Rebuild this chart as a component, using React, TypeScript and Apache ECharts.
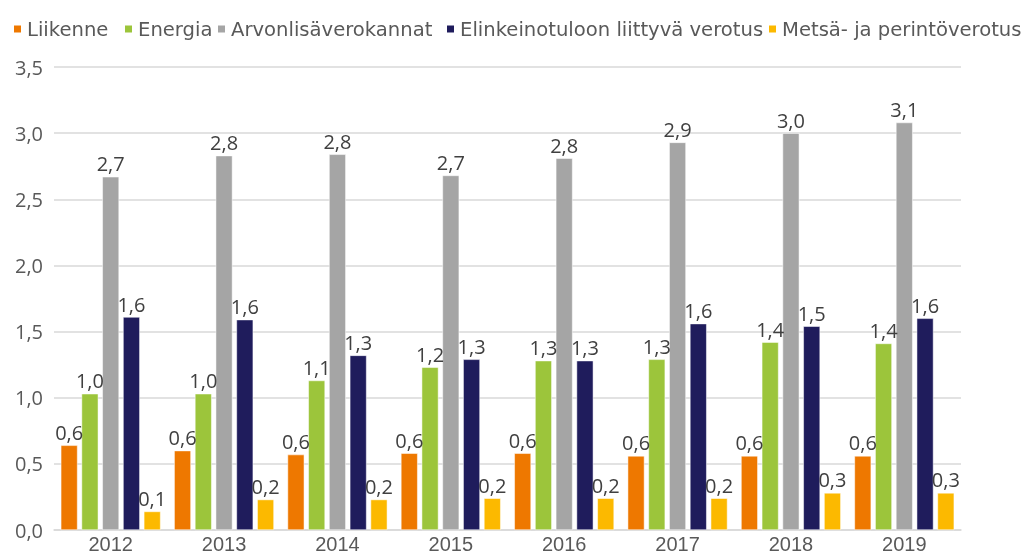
import React, { useEffect, useRef } from "react";
import * as echarts from "echarts";

const years = ["2012", "2013", "2014", "2015", "2016", "2017", "2018", "2019"];
const seriesNames = [
  "Liikenne",
  "Energia",
  "Arvonlisäverokannat",
  "Elinkeinotuloon liittyvä verotus",
  "Metsä- ja perintöverotus",
];
const liikenne = [0.64, 0.6, 0.57, 0.58, 0.58, 0.56, 0.56, 0.56];
const energia = [1.03, 1.03, 1.13, 1.23, 1.28, 1.29, 1.42, 1.41];
const arvonlisa = [2.67, 2.83, 2.84, 2.68, 2.81, 2.93, 3.0, 3.08];
const elinkeino = [1.61, 1.59, 1.32, 1.29, 1.28, 1.56, 1.54, 1.6];
const metsa = [0.14, 0.23, 0.23, 0.24, 0.24, 0.24, 0.28, 0.28];
const colors = ["#EE7800", "#9CC53B", "#A5A5A5", "#1F1C5C", "#FCB900"];
const legendLeft = [12, 123, 216, 445, 767];

const FONT = "'Open Sans', 'Noto Sans', sans-serif";
const LEGEND_FONT = "'DejaVu Sans', 'Open Sans', sans-serif";
const XFONT = "'Liberation Sans', 'Open Sans', sans-serif";

export default function App() {
  const ref = useRef<HTMLDivElement>(null);
  useEffect(() => {
    if (!ref.current) return;
    const chart = echarts.init(ref.current, undefined, { renderer: "svg" });
    const data = [liikenne, energia, arvonlisa, elinkeino, metsa];
    const fmt = (v: number) => v.toFixed(1).replace(".", ",");
    chart.setOption({
      animation: false,
      textStyle: { fontFamily: FONT },
      legend: seriesNames.map((name, i) => ({
        top: 19,
        left: legendLeft[i],
        padding: 0,
        itemWidth: 9,
        itemHeight: 9,
        icon: "rect",
        textStyle: { fontSize: 19.6, color: "#595959", fontFamily: LEGEND_FONT },
        data: [name],
      })),
      grid: { left: 54, right: 72, top: 67, bottom: 26, containLabel: false },
      xAxis: {
        type: "category",
        data: years,
        axisLine: { lineStyle: { color: "#D9D9D9", width: 1.5 } },
        axisTick: { show: false },
        axisLabel: { fontSize: 20, lineHeight: 18, color: "#595959", margin: 5, fontFamily: XFONT },
      },
      yAxis: {
        type: "value",
        min: 0,
        max: 3.5,
        interval: 0.5,
        axisLine: { show: false },
        axisTick: { show: false },
        splitLine: { lineStyle: { color: "#D9D9D9", width: 1.5 } },
        axisLabel: {
          fontSize: 20,
          color: "#595959",
          margin: 11,
          fontFamily: FONT,
          formatter: (v: number) => fmt(v),
        },
      },
      series: seriesNames.map((name, i) => ({
        name,
        type: "bar",
        data: data[i],
        barGap: "24%",
        barCategoryGap: "12%",
        itemStyle: { color: colors[i], borderColor: "#ffffff", borderWidth: 0.5 },
        label: {
          show: true,
          position: "top",
          distance: 3,
          fontSize: 20,
          color: "#404040",
          fontFamily: FONT,
          formatter: (p: any) => fmt(p.value),
        },
      })),
    });
    return () => chart.dispose();
  }, []);
  return (
    <div
      ref={ref}
      style={{ position: "fixed", left: 0, top: 0, width: 1033, height: 556 }}
    />
  );
}
